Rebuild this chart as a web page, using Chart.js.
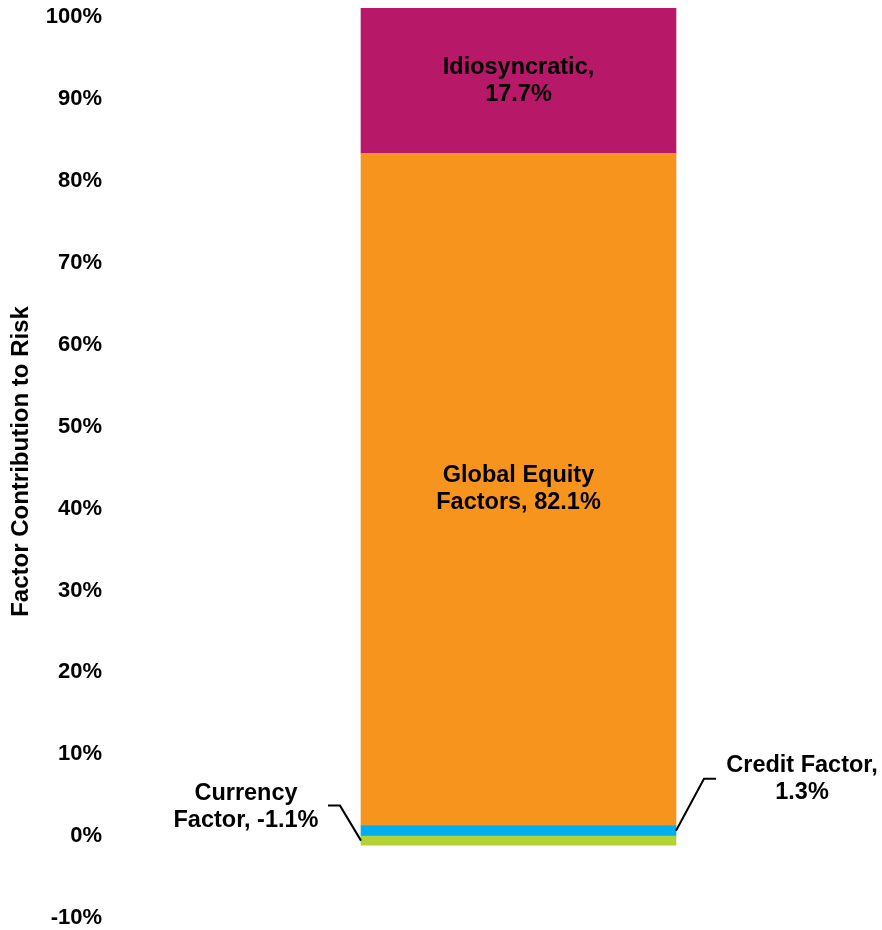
<!DOCTYPE html>
<html>
<head>
<meta charset="utf-8">
<title>Factor Contribution to Risk</title>
<script src="https://cdn.jsdelivr.net/npm/chart.js@4/dist/chart.umd.min.js"></script>
<style>
  html, body { margin: 0; padding: 0; background: #ffffff; }
  #wrap { width: 882px; height: 930px; position: relative; }
</style>
</head>
<body>
<div id="wrap"><canvas id="risk"></canvas></div>
<script>
// Risk decomposition of the portfolio, in percent of total risk.
const categories = ['Portfolio'];
// '|' marks where the label wraps onto a second line
const factorNames = ['Currency|Factor', 'Credit Factor', 'Global Equity|Factors', 'Idiosyncratic'];
const factorValues = [-1.1, 1.3, 82.1, 17.7];
const yTicks = [-10, 0, 10, 20, 30, 40, 50, 60, 70, 80, 90, 100];

// Segment fills, same order as the factors
const factorColors = ['#B2D235', '#00AEEF', '#F7941E', '#B71968'];

const FONT = '"Liberation Sans", Arial, Helvetica, sans-serif';

function labelLines(i) {
  const full = factorNames[i] + ', ' + factorValues[i].toFixed(1) + '%';
  if (full.indexOf('|') >= 0) return full.split('|');
  const k = full.indexOf(', ');
  return [full.slice(0, k + 1), full.slice(k + 2)];
}

// Writes the factor labels: inside the tall segments, and with elbow
// leader lines beside the two thin ones.
const segmentLabels = {
  id: 'segmentLabels',
  afterDatasetsDraw(chart) {
    const ctx = chart.ctx;
    const lh = 27;
    ctx.save();
    ctx.font = 'bold 23.5px ' + FONT;
    ctx.fillStyle = '#000';
    ctx.strokeStyle = '#000';
    ctx.lineWidth = 2;
    ctx.textAlign = 'center';
    ctx.textBaseline = 'middle';

    const drawLines = (lines, cx, cy) => {
      const y0 = cy - (lines.length - 1) * lh / 2;
      lines.forEach((t, j) => ctx.fillText(t, cx, y0 + j * lh));
    };

    chart.data.datasets.forEach((ds, i) => {
      const bar = chart.getDatasetMeta(i).data[0];
      if (!bar) return;
      const p = bar.getProps(['x', 'y', 'base', 'width'], true);
      const mid = (p.y + p.base) / 2;
      const left = p.x - p.width / 2;
      const right = p.x + p.width / 2;
      const lines = labelLines(i);
      if (Math.abs(p.base - p.y) > 60) {
        drawLines(lines, p.x, mid);
      } else if (factorValues[i] >= 0) {
        const ex = right + 28, ey = mid - 52;
        ctx.beginPath();
        ctx.moveTo(right, mid);
        ctx.lineTo(ex, ey);
        ctx.lineTo(ex + 12, ey);
        ctx.stroke();
        drawLines(lines, right + 126, ey);
      } else {
        const ex = left - 21, ey = mid - 35;
        ctx.beginPath();
        ctx.moveTo(left, mid);
        ctx.lineTo(ex, ey);
        ctx.lineTo(ex - 12, ey);
        ctx.stroke();
        drawLines(lines, left - 115, ey + 1);
      }
    });
    ctx.restore();
  }
};

new Chart(document.getElementById('risk'), {
  type: 'bar',
  data: {
    labels: categories,
    datasets: factorValues.map((v, i) => ({
      label: factorNames[i].replace('|', ' '),
      data: [v],
      backgroundColor: factorColors[i],
      borderWidth: 0,
      barThickness: 315
    }))
  },
  options: {
    responsive: true,
    maintainAspectRatio: false,
    animation: false,
    layout: { padding: { top: 5, bottom: 12, left: 0, right: 0 } },
    plugins: {
      legend: { display: false },
      tooltip: { enabled: false }
    },
    scales: {
      x: {
        stacked: true,
        display: false
      },
      y: {
        stacked: true,
        min: -10,
        max: 101.5,
        grid: { display: false, drawTicks: false },
        border: { display: false },
        afterBuildTicks(scale) {
          scale.ticks = yTicks.map(v => ({ value: v }));
        },
        afterFit(scale) {
          scale.width = 155;
          scale.paddingTop = 0;
          scale.paddingBottom = 0;
        },
        ticks: {
          padding: 53,
          color: '#000',
          font: { family: FONT, size: 22, weight: 'bold' },
          callback: v => v + '%'
        },
        title: {
          display: true,
          text: 'Factor Contribution to Risk',
          color: '#000',
          padding: { top: 7, bottom: 0 },
          font: { family: FONT, size: 24, weight: 'bold' }
        }
      }
    }
  },
  plugins: [segmentLabels]
});
</script>
</body>
</html>
